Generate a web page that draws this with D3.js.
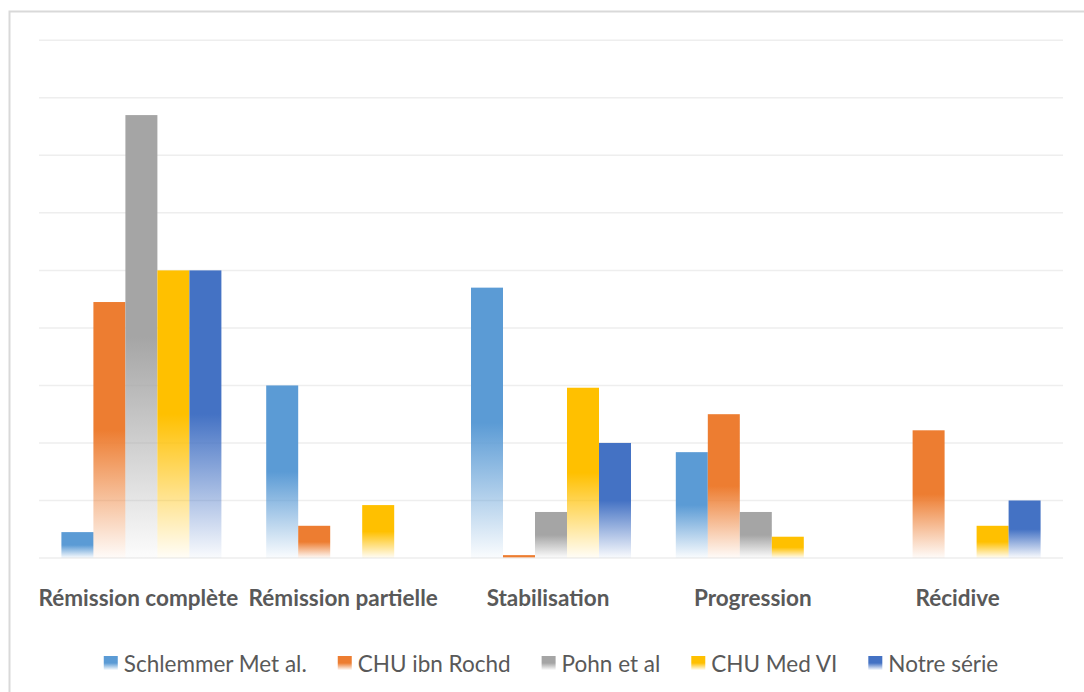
<!DOCTYPE html>
<html>
<head>
<meta charset="utf-8">
<script src="https://cdn.jsdelivr.net/npm/d3@7"></script>
<style>
  html, body { margin: 0; padding: 0; background: #fff; }
  svg { display: block; }
</style>
</head>
<body>
<script>
// Treatment outcome by study (%)
const categories = ["Rémission complète", "Rémission partielle", "Stabilisation", "Progression", "Récidive"];
const seriesNames = ["Schlemmer Met al.", "CHU ibn Rochd", "Pohn et al", "CHU Med VI", "Notre série"];
const seriesColors = ["#5B9BD5", "#ED7D31", "#A5A5A5", "#FFC000", "#4472C4"];

const schlemmer = [4.5, 30, 47, 18.4, 0];
const ibnRochd  = [44.5, 5.6, 0.5, 25, 22.2];
const pohn      = [77, 0, 8, 8, 0];
const medVI     = [50, 9.2, 29.6, 3.7, 5.6];
const notreSerie = [50, 0, 20, 0, 10];

const seriesValues = [schlemmer, ibnRochd, pohn, medVI, notreSerie];
const gridTicks = [0, 10, 20, 30, 40, 50, 60, 70, 80, 90];

const W = 1084, H = 692;
const margin = { left: 39, right: 21, top: 40.3, bottom: 134 };

const svg = d3.select("body").append("svg")
  .attr("width", W).attr("height", H);

// chart frame
svg.append("rect")
  .attr("x", 9.5).attr("y", 11.5)
  .attr("width", W + 20).attr("height", H + 20)
  .attr("fill", "#fff")
  .attr("stroke", "#D9D9D9").attr("stroke-width", 2);

const defs = svg.append("defs");
seriesColors.forEach((c, i) => {
  const g = defs.append("linearGradient")
    .attr("id", "grad" + i)
    .attr("x1", 0).attr("y1", 0).attr("x2", 0).attr("y2", 1);
  g.append("stop").attr("offset", "0%").attr("stop-color", c).attr("stop-opacity", 1);
  g.append("stop").attr("offset", "50%").attr("stop-color", c).attr("stop-opacity", 1);
  g.append("stop").attr("offset", "100%").attr("stop-color", c).attr("stop-opacity", 0.03);
});

const x0 = d3.scaleBand()
  .domain(categories)
  .range([margin.left, W - margin.right])
  .padding(0);

const x1 = d3.scaleBand()
  .domain(seriesNames)
  .range([0, x0.bandwidth()])
  .paddingInner(0)
  .paddingOuter(0.7);

const y = d3.scaleLinear()
  .domain([0, 90])
  .range([H - margin.bottom, margin.top]);

// horizontal gridlines
svg.append("g")
  .selectAll("line")
  .data(gridTicks)
  .join("line")
  .attr("x1", margin.left).attr("x2", W - margin.right)
  .attr("y1", d => y(d)).attr("y2", d => y(d))
  .attr("stroke", "#EEEEEE").attr("stroke-width", 1.5);

// bars
const groups = svg.append("g")
  .selectAll("g")
  .data(categories)
  .join("g")
  .attr("transform", d => `translate(${x0(d)},0)`);

groups.selectAll("rect")
  .data((cat, ci) => seriesNames.map((s, si) => ({ s, si, v: seriesValues[si][ci] })))
  .join("rect")
  .attr("x", d => x1(d.s))
  .attr("width", x1.bandwidth())
  .attr("y", d => y(d.v))
  .attr("height", d => y(0) - y(d.v))
  .attr("fill", d => `url(#grad${d.si})`);

// category labels
svg.append("g")
  .selectAll("text")
  .data(categories)
  .join("text")
  .attr("x", d => x0(d) + x0.bandwidth() / 2 - 3)
  .attr("y", 606)
  .attr("text-anchor", "middle")
  .attr("font-family", "Lato, 'Open Sans', sans-serif")
  .attr("font-weight", "bold")
  .attr("font-size", 22.5)
  .attr("fill", "#595959")
  .text(d => d);

// legend
const legend = svg.append("g");
const items = legend.selectAll("g")
  .data(seriesNames)
  .join("g");
items.append("rect")
  .attr("width", 14).attr("height", 14)
  .attr("y", 656)
  .attr("fill", (d, i) => `url(#grad${i})`);
items.append("text")
  .attr("x", 20)
  .attr("y", 672)
  .attr("font-family", "Lato, 'Open Sans', sans-serif")
  .attr("font-size", 22.5)
  .attr("fill", "#595959")
  .text(d => d);

const gap = 31;
const widths = [];
items.each(function () {
  widths.push(20 + d3.select(this).select("text").node().getComputedTextLength());
});
const total = d3.sum(widths) + gap * (widths.length - 1);
let cx = (margin.left + W - margin.right) / 2 - total / 2;
items.attr("transform", (d, i) => {
  const t = `translate(${cx},0)`;
  cx += widths[i] + gap;
  return t;
});
</script>
</body>
</html>
